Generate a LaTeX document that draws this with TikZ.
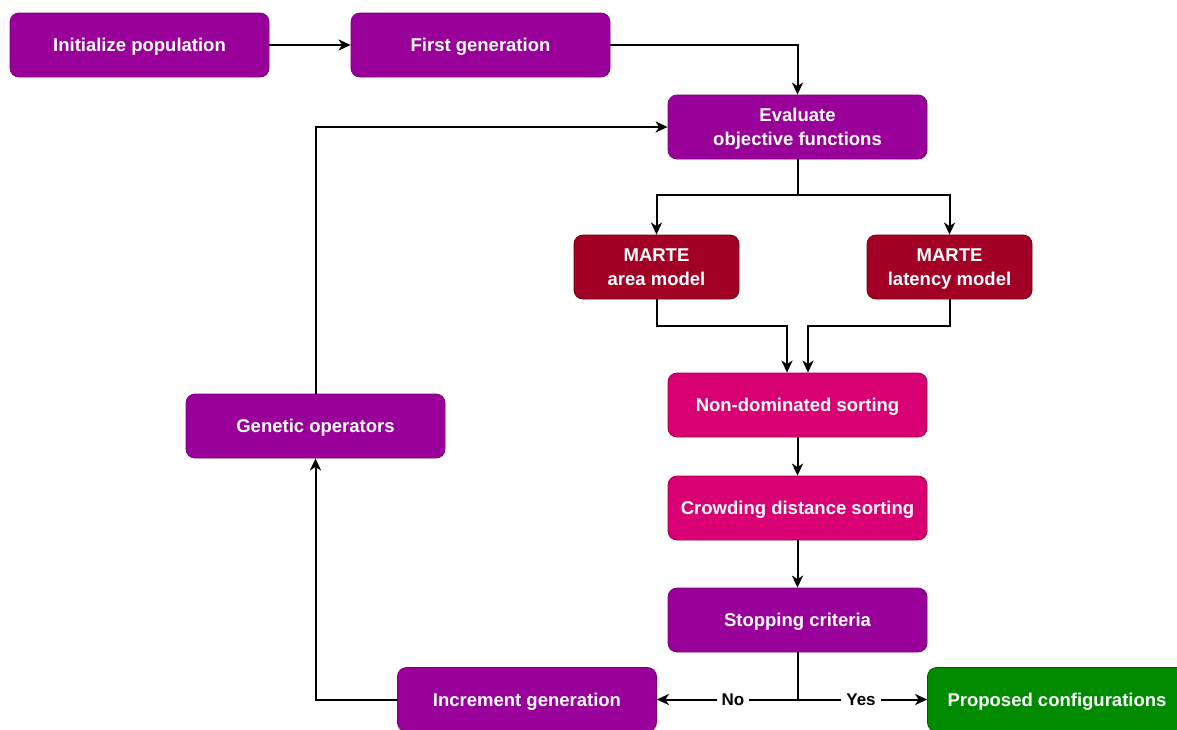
\documentclass[tikz,border=0pt]{standalone}
\usepackage{fontspec}
\setmainfont{Liberation Sans}
\usetikzlibrary{arrows.meta,positioning}
\definecolor{procfill}{HTML}{990099}
\definecolor{procline}{HTML}{7A007A}
\definecolor{modelfill}{HTML}{A20025}
\definecolor{modelline}{HTML}{6F0000}
\definecolor{sortfill}{HTML}{D80073}
\definecolor{sortline}{HTML}{A50040}
\definecolor{donefill}{HTML}{008A00}
\definecolor{doneline}{HTML}{005700}
\tikzset{
  box/.style={rectangle, rounded corners=9pt, minimum width=259pt, minimum height=64pt,
    inner sep=2pt, align=center, text=white, line width=0.8pt, text depth=0pt,
    font=\fontsize{18.5}{24}\selectfont\bfseries},
  proc/.style={box, fill=procfill, draw=procline},
  model/.style={box, fill=modelfill, draw=modelline, minimum width=165pt},
  sortbox/.style={box, fill=sortfill, draw=sortline},
  done/.style={box, fill=donefill, draw=doneline},
  conn/.style={draw=black, line width=2pt, -{Stealth[length=12pt,width=11pt,inset=3.5pt]}},
  wire/.style={draw=black, line width=2pt},
  lbl/.style={fill=white, text=black, inner sep=5pt, text depth=0pt,
    font=\fontsize{17}{20}\selectfont\bfseries}
}
\begin{document}
\begin{tikzpicture}[x=1pt,y=-1pt]
\useasboundingbox (0,0) rectangle (1177,729);
\begin{scope}
\clip (0,0) rectangle (1177,729);
% process steps
\node[proc] (init) at (139.5,45) {Initialize population};
\node[proc] (first) at (480.5,45) {First generation};
\node[proc] (eval) at (797.5,127) {Evaluate\\objective functions};
\node[model] (area) at (656.5,267) {MARTE\\area model};
\node[model] (lat) at (949.5,267) {MARTE\\latency model};
\node[sortbox] (nondom) at (797.5,405) {Non-dominated sorting};
\node[sortbox] (crowd) at (797.5,508) {Crowding distance sorting};
\node[proc] (stop) at (797.5,620) {Stopping criteria};
\node[proc] (inc) at (527,699.5) {Increment generation};
\node[done] (prop) at (1057,699.5) {Proposed configurations};
\node[proc] (gen) at (315.5,426) {Genetic operators};

% connectors
\draw[conn] (init) -- (first);
\draw[conn] (first.east) -| (eval.north);
\coordinate (split) at (797.5,195);
\draw[wire] (eval.south) -- (split);
\draw[conn] (split) -| (area.north);
\draw[conn] (split) -| (lat.north);
\draw[conn] (area.south) |- (787,326) -- ([xshift=-10.5pt]nondom.north);
\draw[conn] (lat.south) |- (808,326) -- ([xshift=10.5pt]nondom.north);
\draw[conn] (nondom) -- (crowd);
\draw[conn] (crowd) -- (stop);
\coordinate (fork) at (797.5,699.5);
\draw[wire] (stop.south) -- (fork);
\draw[conn] (fork) -- node[lbl, pos=0.46] {No} (inc.east);
\draw[conn] (fork) -- node[lbl, pos=0.49] {Yes} (prop.west);
\draw[conn] (inc.west) -| (gen.south);
\draw[conn] (gen.north) |- (eval.west);
\end{scope}
\end{tikzpicture}
\end{document}
